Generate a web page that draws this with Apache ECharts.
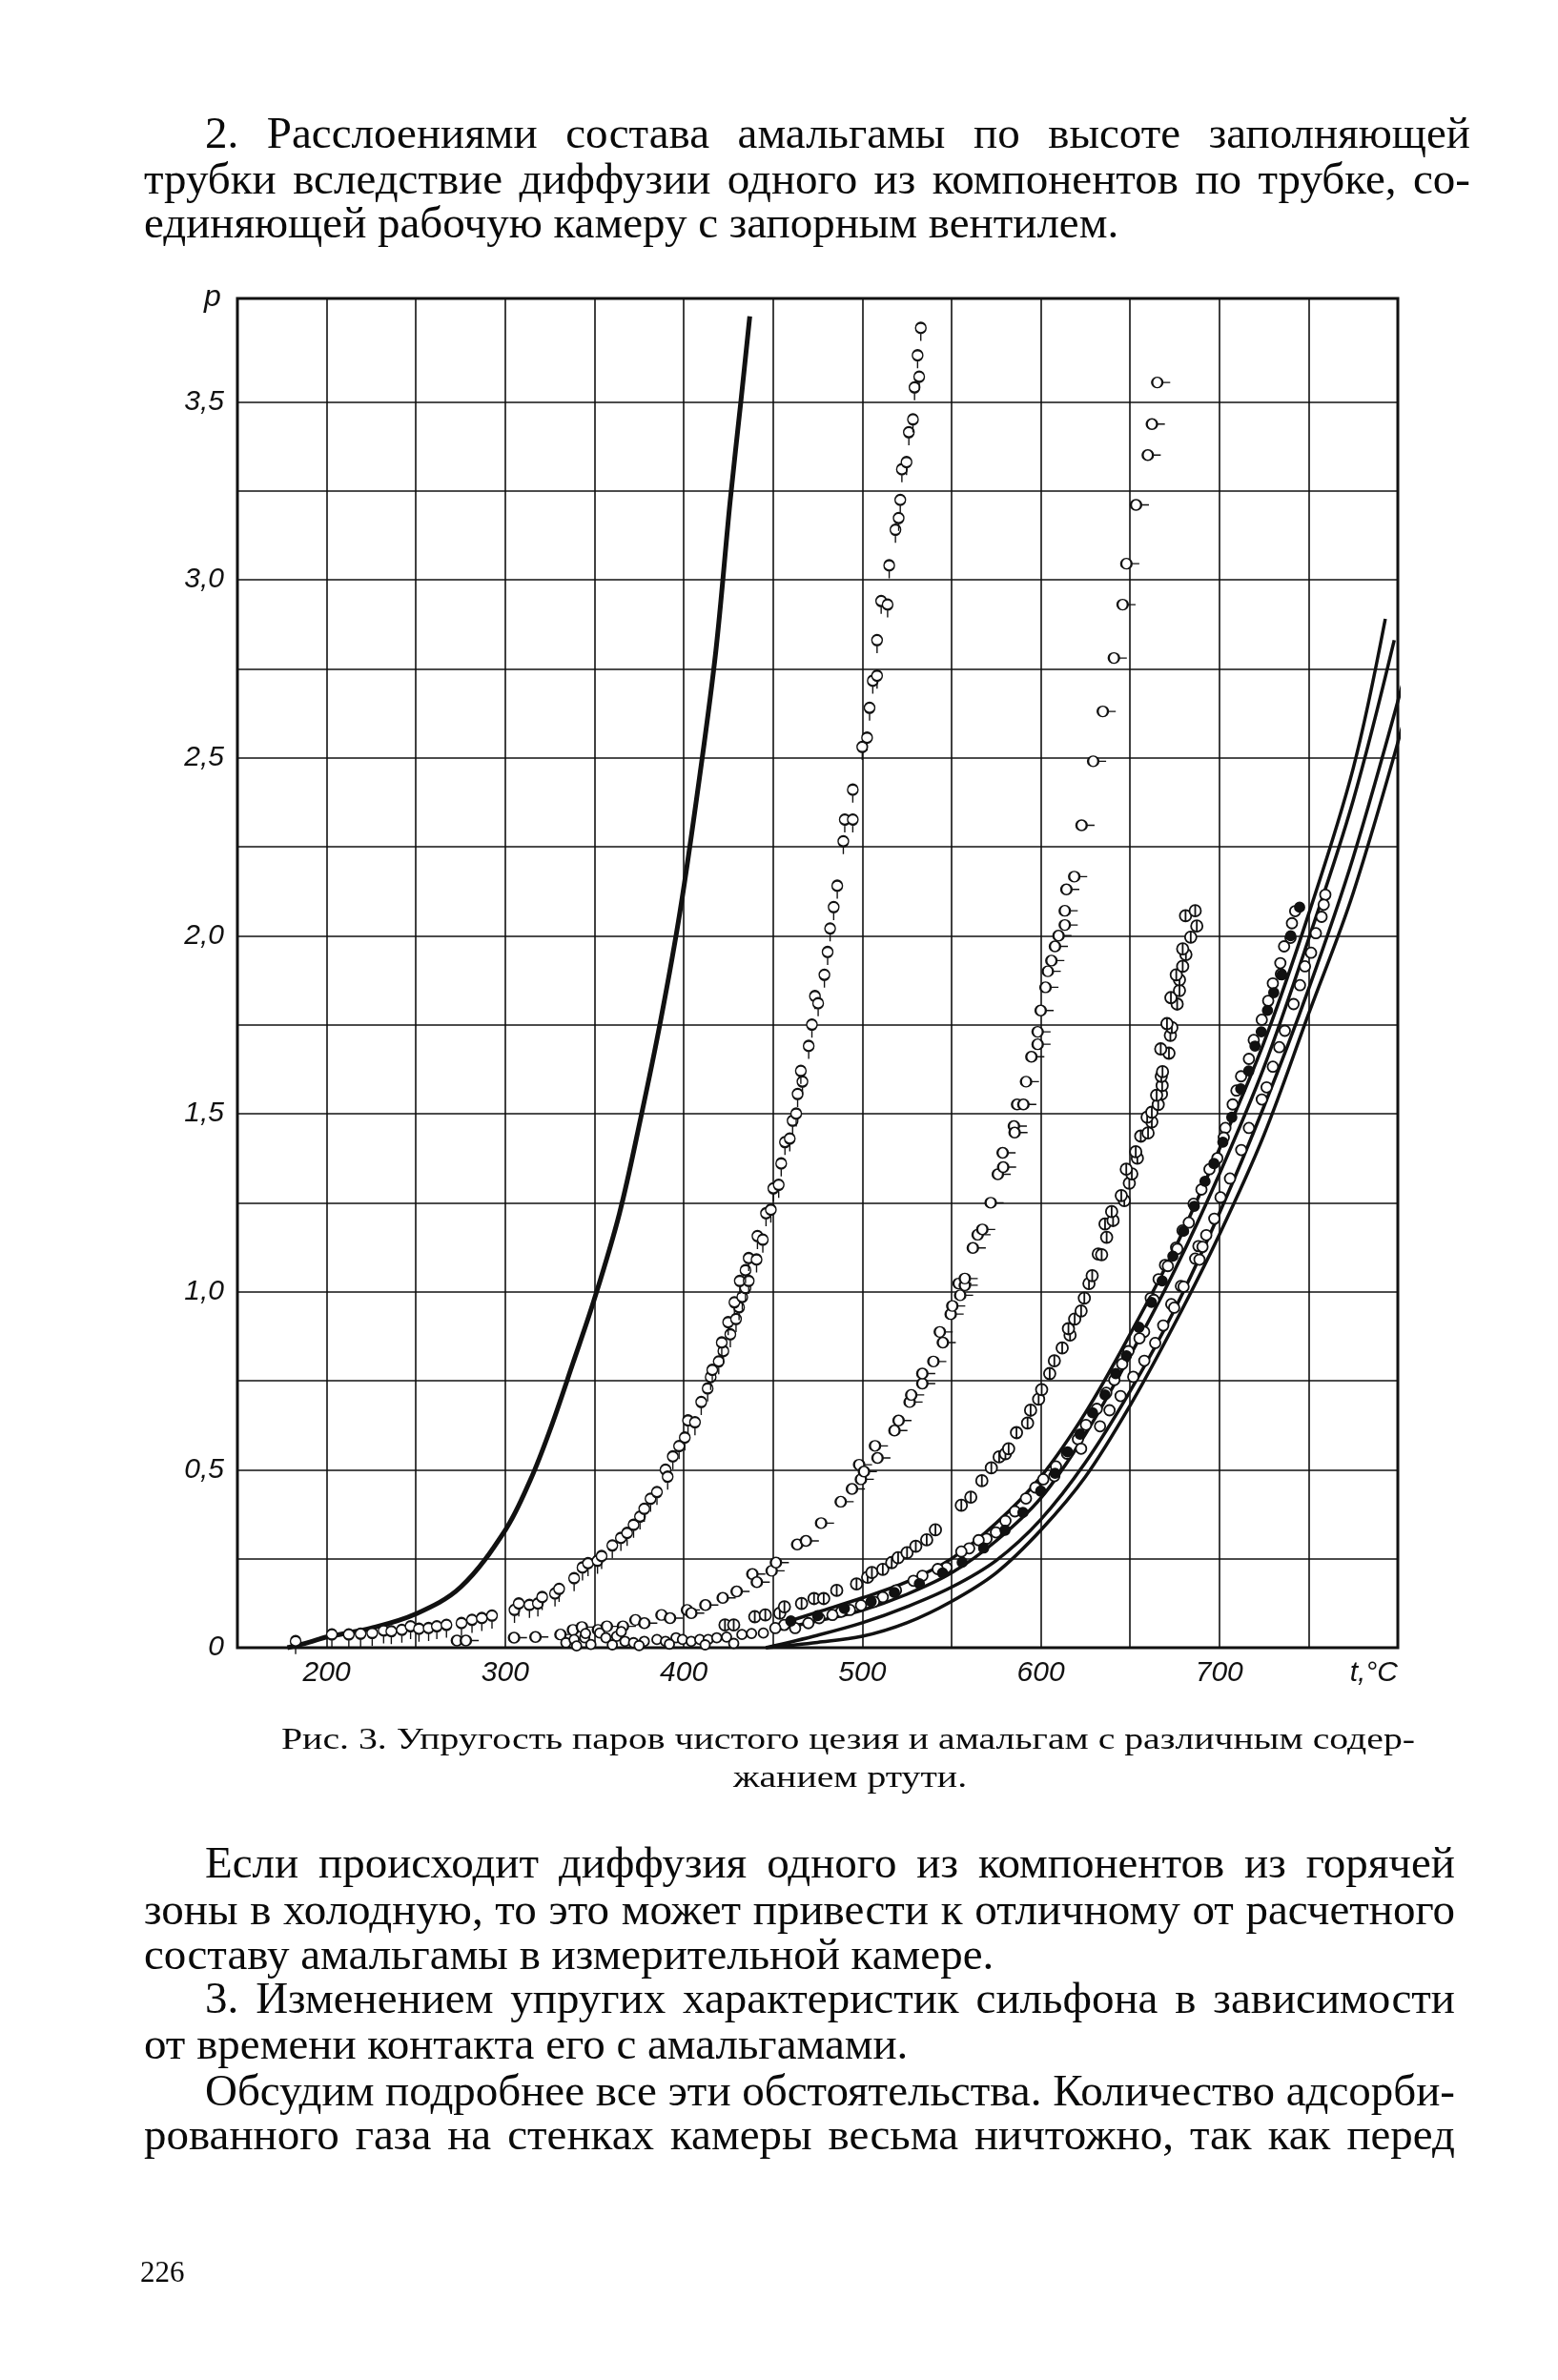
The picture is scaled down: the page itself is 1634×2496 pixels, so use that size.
<!DOCTYPE html>
<html>
<head>
<meta charset="utf-8">
<script src="https://cdn.jsdelivr.net/npm/echarts@6/dist/echarts.min.js"></script>
<style>
  html, body { margin: 0; padding: 0; background: #fff; }
  #page { position: relative; width: 1634px; height: 2496px; overflow: hidden; }
  #chart { position: absolute; left: 0; top: 0; width: 1634px; height: 2496px; }
  .ln { position: absolute; font-family: "Liberation Serif", "DejaVu Serif", serif; color: #0a0a0a;
        font-size: 46px; line-height: 48px; white-space: nowrap; }
  .cap { font-size: 32px; line-height: 36px; }
  .pg { position: absolute; font-family: "Liberation Serif", serif; color: #0a0a0a; font-size: 31px; line-height: 36px; }
</style>
</head>
<body>
<div id="page">
  <div id="chart"></div>

  <div class="ln" data-w="1327" style="left:215px;top:116px">2. Расслоениями состава амальгамы по высоте заполняющей</div>
  <div class="ln" data-w="1391" style="left:151px;top:164px">трубки вследствие диффузии одного из компонентов по трубке, со-</div>
  <div class="ln" style="left:151px;top:210px">единяющей рабочую камеру с запорным вентилем.</div>

  <div class="ln cap" data-w="1189" style="left:295px;top:1805px">Рис. 3. Упругость паров чистого цезия и амальгам с различным содер-</div>
  <div class="ln cap" data-c="892" style="left:800px;top:1845px">жанием ртути.</div>

  <div class="ln" data-w="1311" style="left:215px;top:1930px">Если происходит диффузия одного из компонентов из горячей</div>
  <div class="ln" data-w="1375" style="left:151px;top:1979px">зоны в холодную, то это может привести к отличному от расчетного</div>
  <div class="ln" style="left:151px;top:2026px">составу амальгамы в измерительной камере.</div>
  <div class="ln" data-w="1311" style="left:215px;top:2072px">3. Изменением упругих характеристик сильфона в зависимости</div>
  <div class="ln" style="left:151px;top:2120px">от времени контакта его с амальгамами.</div>
  <div class="ln" data-w="1311" style="left:215px;top:2169px">Обсудим подробнее все эти обстоятельства. Количество адсорби-</div>
  <div class="ln" data-w="1375" style="left:151px;top:2215px">рованного газа на стенках камеры весьма ничтожно, так как перед</div>

  <div class="pg" style="left:147px;top:2365px">226</div>
</div>
<script>
// строки текста: одна ширина букв на группу, добивка пробелами по ширине
function setLines(sel) {
  var els = document.querySelectorAll(sel);
  var nat = [], k = 1.3;
  for (var i = 0; i < els.length; i++) {
    nat[i] = els[i].getBoundingClientRect().width;
    var w = +els[i].getAttribute('data-w') || 0;
    if (w) k = Math.min(k, w / nat[i]);
  }
  for (var j = 0; j < els.length; j++) {
    var el = els[j];
    var wj = +el.getAttribute('data-w') || 0;
    var n = (el.textContent.match(/ /g) || []).length;
    if (wj && n) el.style.wordSpacing = ((wj / k - nat[j]) / n) + 'px';
    var c = +el.getAttribute('data-c') || 0;
    if (c) el.style.left = (c - nat[j] * k / 2) + 'px';
    el.style.transformOrigin = '0 0';
    el.style.transform = 'scaleX(' + k + ')';
  }
}
setLines('.ln:not(.cap)');
setLines('.ln.cap');

// оси
var xTicks = [200, 300, 400, 500, 600, 700];
var xGridLines = [200, 250, 300, 350, 400, 450, 500, 550, 600, 650, 700, 750];
var yGridLines = [0.25, 0.5, 0.75, 1, 1.25, 1.5, 1.75, 2, 2.25, 2.5, 2.75, 3, 3.25, 3.5];

// чистый цезий (сплошная кривая)
var cesiumCurve = [[178,0],[190,0.015],[200,0.03],[225,0.055],[250,0.095],[275,0.17],[300,0.33],[314,0.47],
  [325,0.61],[338,0.8],[350,0.98],[364,1.22],[376,1.49],[387,1.76],[398,2.07],[409,2.45],[418,2.8],
  [426,3.22],[432,3.5],[437,3.74]];

// расчётные кривые для амальгам
var calc1 = [[450,0.06],[475,0.1],[500,0.14],[525,0.185],[550,0.25],[575,0.35],[600,0.48],[625,0.66],
  [650,0.88],[675,1.12],[700,1.4],[725,1.7],[750,2.06],[775,2.47],[793,2.89]];
var calc2 = [[450,0.05],[475,0.075],[500,0.105],[525,0.15],[550,0.21],[575,0.3],[600,0.42],[625,0.6],
  [650,0.82],[675,1.06],[700,1.33],[725,1.63],[750,1.99],[775,2.38],[798,2.83]];
var calc3 = [[446,0],[475,0.035],[500,0.07],[525,0.115],[550,0.17],[575,0.245],[600,0.36],[625,0.52],
  [650,0.72],[675,0.95],[700,1.22],[725,1.52],[750,1.85],[775,2.22],[805,2.75]];
var calc4 = [[446,0],[475,0.015],[500,0.032],[525,0.07],[550,0.13],[575,0.21],[600,0.33],[625,0.48],
  [650,0.68],[675,0.91],[700,1.16],[725,1.44],[750,1.78],[775,2.12],[806,2.65]];

// амальгама 1 (кружки с вертикальным хвостом)
var amalgamB = [[182.6,0.018],[202.9,0.037],[212.4,0.037],[219,0.039],[225.5,0.041],[231.9,0.048],[236.2,0.046],
  [242.1,0.05],[247,0.06],[251.7,0.053],[257.1,0.055],[261.7,0.06],[267.1,0.064],[275.5,0.069],[281.4,0.078],
  [286.9,0.083],[292.6,0.09],[305.2,0.106],[307.6,0.124],[313.6,0.12],[318.3,0.124],[320.7,0.142],[327.9,0.152],
  [330.2,0.165],[338.6,0.195],[343.3,0.225],[346.4,0.237],[351.7,0.244],[354,0.257],[360,0.287],[364.8,0.308],
  [368.3,0.322],[371.9,0.345],[375.5,0.368],[377.9,0.39],[381.4,0.418],[385,0.437],[389.8,0.5],[391,0.48],
  [393.9,0.537],[397.4,0.566],[400.6,0.59],[402.4,0.638],[406.3,0.633],[409.8,0.69],[413.4,0.728],[415.1,0.76],
  [416,0.78],[419.6,0.804],[422.2,0.833],[421.3,0.857],[426.1,0.88],[424.9,0.914],[429.3,0.923],[431,0.956],
  [428.4,0.97],[432.8,0.985],[434.6,1.01],[431.4,1.03],[436.4,1.03],[434.6,1.06],[436.4,1.094],[440.8,1.09],
  [441.3,1.156],[444.3,1.146],[446.1,1.22],[448.8,1.23],[450.2,1.29],[453.2,1.3],[454.6,1.36],[456.7,1.42],
  [459.4,1.43],[461,1.48],[463,1.5],[463.8,1.555],[466.5,1.59],[465.6,1.62],[470,1.69],[471.8,1.75],
  [473.5,1.83],[475.3,1.81],[478.8,1.89],[480.6,1.954],[482,2.02],[484,2.08],[486,2.14],[489.4,2.265],
  [490.2,2.326],[494.7,2.326],[494.7,2.41],[500,2.53],[502.7,2.556],[504.1,2.64],[505.9,2.716],[508.3,2.73],
  [508.3,2.83],[510.6,2.94],[514.2,2.93],[515.1,3.04],[518.6,3.14],[520.4,3.173],[521.3,3.224],[522.2,3.31],
  [524.8,3.33],[526.1,3.414],[528.4,3.45],[529.3,3.54],[531.9,3.57],[531,3.63],[532.8,3.707]];

// амальгама 2 (кружки с горизонтальным хвостом)
var amalgamC = [[273,0.02],[278,0.02],[305,0.028],[317,0.03],[331,0.037],[338,0.05],[343,0.058],[352,0.05],
  [357,0.06],[366,0.06],[373,0.078],[378,0.069],[387.6,0.092],[392.4,0.083],[401.9,0.106],[404.3,0.097],
  [412.2,0.12],[421.9,0.14],[429.7,0.158],[438.5,0.207],[441,0.184],[449.3,0.216],[451.7,0.239],[463.6,0.29],
  [468.5,0.3],[477,0.35],[488,0.41],[494.3,0.446],[499.3,0.473],[498.3,0.514],[501,0.495],[507.2,0.567],
  [508.6,0.533],[518.1,0.61],[520.4,0.638],[526.6,0.69],[527.5,0.71],[533.7,0.742],[533.7,0.77],[539.9,0.804],
  [545.2,0.857],[543.5,0.887],[549.6,0.937],[550.5,0.96],[554.9,0.99],[554,1.023],[557.5,1.018],[557.5,1.037],
  [562,1.123],[564.7,1.16],[567.3,1.175],[572,1.25],[576,1.33],[579,1.35],[578.7,1.39],[585,1.465],
  [585.4,1.447],[586.8,1.526],[590.3,1.526],[591.8,1.59],[594.8,1.66],[598.3,1.695],[598.3,1.73],[600,1.79],
  [602.7,1.855],[604,1.9],[606,1.93],[608,1.97],[610,2.0],[613.5,2.03],[613.5,2.07],[614.4,2.13],
  [618.8,2.166],[622.9,2.31],[629.4,2.49],[634.8,2.63],[641,2.78],[645.9,2.93],[648,3.045],[653.4,3.21],
  [660,3.35],[662.3,3.437],[665.3,3.554]];

// амальгама 3 (кружки с чертой)
var amalgamD = [[423.1,0.064],[428,0.064],[439.8,0.087],[445.7,0.092],[453.8,0.097],[456.4,0.115],[466,0.124],
  [473,0.138],[478.4,0.138],[485.7,0.161],[496.8,0.179],[503,0.198],[505.4,0.211],[511.5,0.22],[516.5,0.239],
  [520.1,0.253],[525.1,0.267],[530,0.285],[536.1,0.303],[541,0.331],[555.5,0.4],[560.8,0.423],[567,0.469],
  [572.3,0.505],[576.7,0.536],[580.2,0.545],[582,0.559],[586.4,0.604],[592.6,0.631],[594.3,0.667],
  [598.8,0.698],[600.5,0.725],[605,0.77],[607.6,0.806],[612,0.842],[616.4,0.878],[615.5,0.896],[619,0.923],
  [622.6,0.946],[624.4,0.982],[627,1.023],[628.8,1.045],[632.2,1.106],[634.1,1.104],[636.9,1.153],[636,1.19],
  [640.5,1.2],[639.7,1.225],[646.8,1.256],[645.1,1.27],[649.6,1.305],[651,1.331],[647.9,1.344],[654.1,1.375],
  [653.2,1.393],[656,1.437],[660.1,1.446],[662.2,1.477],[659.6,1.49],[662.2,1.504],[665.8,1.526],[667.6,1.555],
  [664.9,1.552],[668,1.579],[667.5,1.605],[668.2,1.618],[671.8,1.67],[667.2,1.682],[672.6,1.72],[673.4,1.742],
  [670.7,1.753],[676.4,1.808],[672.9,1.826],[677.7,1.846],[677.7,1.876],[675.9,1.89],[679.5,1.914],[681.3,1.947],
  [679.5,1.963],[684,1.996],[687.4,2.027],[681.1,2.056],[686.5,2.07]];

// остальные амальгамы (плотная группа у расчётных кривых)
var amalgamE = [[759.4,2.115],[742.5,2.069],[758.5,2.087],[740.7,2.035],[757.3,2.053],[754.1,2.007],[739.9,1.994],
  [736.3,1.97],[751.4,1.952],[734.2,1.923],[748,1.914],[734.5,1.892],[730,1.866],[745.2,1.861],[727.4,1.817],
  [741.6,1.808],[723.8,1.764],[736.7,1.733],[719.3,1.707],[733.6,1.687],[716.6,1.654],[730,1.632],[712.2,1.605],
  [726.5,1.574],[709.6,1.565],[723.8,1.54],[707.5,1.526],[716.6,1.46],[703.4,1.46],[702.5,1.433],[712.3,1.398],
  [698.9,1.375],[694.5,1.344],[706,1.318],[690,1.287],[700.7,1.265],[685.6,1.247],[697.2,1.205],[682.9,1.194],
  [679.4,1.172],[692.7,1.159],[675.8,1.124],[688.3,1.128],[686.5,1.093],[669.6,1.075],[666,1.035],[678.5,1.016],
  [661.6,0.982],[673.1,0.965],[676.5,1.12],[690.6,1.126],[688.9,1.09],[671.2,1.072],[680,1.014],[663.3,0.977],
  [674.7,0.955],[657.9,0.887],[655.3,0.869],[668.6,0.905],[649.1,0.833],[645.6,0.797],[664.1,0.856],[658,0.806],
  [651.8,0.761],[641.2,0.752],[636.7,0.716],[644.7,0.707],[631.4,0.671],[638.5,0.667],[625.3,0.626],[633.2,0.622],
  [620.8,0.586],[622.6,0.559],[614.7,0.545],[608.5,0.509],[607.6,0.482],[601.4,0.473],[597,0.45],[591.7,0.419],
  [585.5,0.383],[580.2,0.356],[574.9,0.324],[569.6,0.306],[565.2,0.302],[559.9,0.279],[555.5,0.27],[547.2,0.225],
  [542.3,0.221],[533.7,0.202],[528.7,0.188],[518.9,0.161],[511.5,0.142],[506.6,0.129],[499.3,0.119],[493.1,0.106],
  [488.2,0.101],[483.3,0.092],[475.9,0.083],[469.8,0.069],[462.4,0.055],[456.3,0.064],[451.3,0.055]];
var amalgamEfilled = [[745,2.08],[740,2.0],[735,1.89],[730.5,1.84],[727,1.79],[723.5,1.73],[720,1.69],[716.5,1.62],
  [712,1.57],[707,1.49],[702,1.42],[697,1.36],[692,1.31],[686,1.24],[680,1.17],[674,1.1],[668,1.03],[662,0.97],
  [655,0.9],[648,0.82],[642,0.77],[636,0.71],[629,0.66],[622,0.6],[615,0.55],[608,0.49],[600,0.44],[590,0.38],
  [580,0.33],[568,0.28],[556,0.24],[545,0.21],[532,0.18],[518,0.155],[505,0.13],[490,0.11],[475,0.09],[460,0.075]];
// точки у самого нуля
var amalgamLow = [[334,0.014],[338.6,0.023],[344.5,0.028],[348,0.009],[352.9,0.041],[356.4,0.028],[362.4,0.032],
  [367.1,0.018],[371.9,0.014],[377.9,0.018],[385,0.023],[389.8,0.018],[395.7,0.028],[399.3,0.023],[404.2,0.018],
  [409,0.023],[413.7,0.023],[418.5,0.028],[424,0.03],[432.6,0.037],[438,0.04],[444.6,0.041],[340,0.005],
  [360,0.008],[375,0.006],[392,0.01],[412,0.008],[428,0.012],[345,0.04],[365,0.045]];

var pipDown = 'path://M5,1A4,4,0,1,1,4.99,1ZM5,9L5,15';
var pipRight = 'path://M5,1A4,4,0,1,1,4.99,1ZM9,5L15,5';
var phi = 'path://M5,1A4,4,0,1,1,4.99,1ZM5,1L5,9';

var ink = '#111';
var labelFont = { color: ink, fontSize: 30, fontStyle: 'italic', fontFamily: 'Liberation Sans Narrow, Liberation Sans, sans-serif' };

function dots(name, data, symbol, size, offset, fill) {
  return {
    name: name, type: 'scatter', data: data, symbol: symbol, symbolSize: size, symbolOffset: offset,
    itemStyle: { color: fill || '#fff', borderColor: ink, borderWidth: 1.8, opacity: 1 },
    z: 5, silent: true
  };
}
function curve(name, data, width) {
  return {
    name: name, type: 'line', data: data, smooth: 0.35, showSymbol: false, clip: false,
    lineStyle: { color: ink, width: width }, z: 4, silent: true
  };
}

var myChart = echarts.init(document.getElementById('chart'));
var option = {
  backgroundColor: 'transparent',
  animation: false,
  grid: { left: 249, top: 313, width: 1217, height: 1415, show: true, borderColor: ink, borderWidth: 3 },
  xAxis: {
    type: 'value', min: 150, max: 800, interval: 50,
    axisLine: { show: false }, axisTick: { show: false }, splitLine: { show: false },
    axisLabel: Object.assign({ margin: 12, alignMaxLabel: 'right', showMinLabel: true, showMaxLabel: true,
      formatter: function (v) {
        if (v === 800) return 't,°C';
        return xTicks.indexOf(v) >= 0 ? String(v) : '';
      } }, labelFont)
  },
  yAxis: {
    type: 'value', min: 0, max: 3.79, interval: 0.25,
    axisLine: { show: false }, axisTick: { show: false }, splitLine: { show: false },
    axisLabel: Object.assign({ margin: 14,
      formatter: function (v) {
        var h = v * 2;
        if (Math.abs(h - Math.round(h)) > 1e-6 || v > 3.5) return '';
        return v === 0 ? '0' : v.toFixed(1).replace('.', ',');
      } }, labelFont)
  },
  graphic: [{ type: 'text', left: 214, top: 296, style: { text: 'p', fill: ink, font: 'italic 32px "Liberation Sans Narrow", "Liberation Sans", sans-serif' } }],
  series: [
    {
      name: 'сетка', type: 'line', data: [], silent: true, z: 1,
      markLine: {
        silent: true, symbol: 'none', animation: false, label: { show: false },
        lineStyle: { color: ink, width: 1.6, type: 'solid' },
        data: xGridLines.map(function (v) { return { xAxis: v }; })
          .concat(yGridLines.map(function (v) { return { yAxis: v }; }))
      }
    },
    curve('Cs', cesiumCurve, 5),
    curve('расчёт 1', calc1, 3.5),
    curve('расчёт 2', calc2, 3.5),
    curve('расчёт 3', calc3, 3.5),
    curve('расчёт 4', calc4, 3.5),
    dots('амальгама 1', amalgamB, pipDown, [11, 19], [0, 4]),
    dots('амальгама 2', amalgamC, pipRight, [19, 11], [4, 0]),
    dots('амальгама 3', amalgamD, phi, 12, [0, 0]),
    dots('амальгамы', amalgamE, 'circle', 11, [0, 0]),
    dots('амальгамы (т)', amalgamEfilled, 'circle', 10, [0, 0], ink),
    dots('у нуля', amalgamLow, 'circle', 10, [0, 0])
  ]
};
myChart.setOption(option);
</script>
</body>
</html>
